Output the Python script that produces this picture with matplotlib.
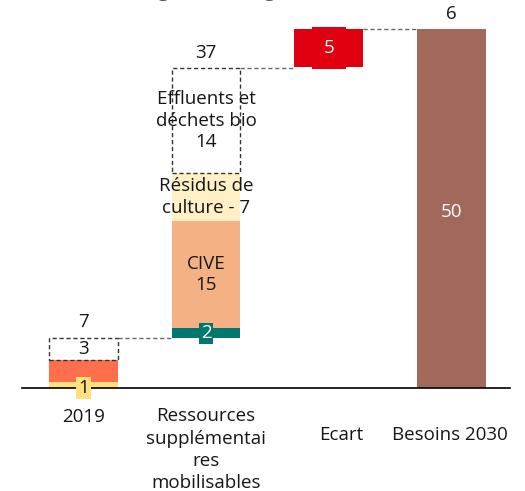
import matplotlib.pyplot as plt
import numpy as np

# valeurs (TWh)
categories = ["2019", "Ressources\nsupplémentai\nres\nmobilisables", "Ecart", "Besoins 2030"]
vals_2019 = [0.8, 3.1, 3.0]
labels_2019 = ["1", "", "3"]
vals_ress = [1.4, 15.0, 6.7, 14.5]
labels_ress = ["2", "CIVE\n15", "Résidus de\nculture - 7", "Effluents et\ndéchets bio\n14"]
ecart = 5.3
besoins = 50
total_labels = ["7", "37", "5", "6"]

FONT = "Open Sans"
FS = 13.5
TXT = "#161616"
plt.rcParams["font.family"] = [FONT, "DejaVu Sans"]

fig = plt.figure(figsize=(5.25, 4.91), dpi=100)
ax = fig.add_axes([22 / 525, 103 / 491, 488 / 525, 388 / 491])
ax.set_xlim(-0.5, 3.476)
ax.set_ylim(0, 54.04)
for s in ["top", "right", "left"]:
    ax.spines[s].set_visible(False)
ax.spines["bottom"].set_linewidth(1.2)
ax.set_xticks([])
ax.set_yticks([])

w = 0.56
dash = (0, (3, 2))

# 2019
b = np.concatenate([[0], np.cumsum(vals_2019)[:-1]])
ax.bar(0, vals_2019[0], w, bottom=b[0], color="#FFE07F")
ax.bar(0, vals_2019[1], w, bottom=b[1], color="#FF6F4C")
ax.bar(0, vals_2019[2], w, bottom=b[2], facecolor="none", edgecolor="#333333",
       linestyle=dash, linewidth=1)
ax.text(0, b[0] + vals_2019[0] / 2 - 0.35, labels_2019[0], ha="center", va="center",
        fontsize=FS, color=TXT,
        bbox=dict(boxstyle="square,pad=0.1", fc="#FFE07F", ec="none"))
ax.text(0, b[2] + vals_2019[2] / 2, labels_2019[2], ha="center", va="center",
        fontsize=FS, color=TXT)
top_2019 = sum(vals_2019)
ax.text(0, top_2019 + 2.3, total_labels[0], ha="center", va="center", fontsize=FS, color=TXT)

# ressources supplementaires
b = top_2019 + np.concatenate([[0], np.cumsum(vals_ress)[:-1]])
ax.bar(1, vals_ress[0], w, bottom=b[0], color="#00776F")
ax.bar(1, vals_ress[1], w, bottom=b[1], color="#F4B183")
ax.bar(1, vals_ress[2], w, bottom=b[2], color="#FFF0C6")
ax.bar(1, vals_ress[3], w, bottom=b[3], facecolor="none", edgecolor="#333333",
       linestyle=dash, linewidth=1)
ax.text(1, b[0] + vals_ress[0] / 2, labels_ress[0], ha="center", va="center",
        fontsize=FS, color="white",
        bbox=dict(boxstyle="square,pad=0.1", fc="#00776F", ec="none"))
for i in range(1, 4):
    ax.text(1, b[i] + vals_ress[i] / 2, labels_ress[i], ha="center", va="center",
            fontsize=FS, linespacing=1.27, color=TXT)
top_ress = top_2019 + sum(vals_ress)
ax.text(1, top_ress + 2.2, total_labels[1], ha="center", va="center", fontsize=FS, color=TXT)

# ecart
ax.bar(2, ecart, w, bottom=besoins - ecart, color="#E1000F")
ax.text(2, besoins - ecart / 2, total_labels[2], ha="center", va="center",
        fontsize=FS, color="white",
        bbox=dict(boxstyle="square,pad=0.62", fc="#E1000F", ec="none"))

# besoins 2030
ax.bar(3, besoins, w, color="#A2695A")
ax.text(3, 24.5, str(besoins), ha="center", va="center", fontsize=FS, color="white")
ax.text(3, besoins + 2.1, total_labels[3], ha="center", va="center", fontsize=FS, color=TXT)

# connecteurs
ax.plot([w / 2, 1 - w / 2], [top_2019, top_2019], color="#666666", lw=1, ls=dash)
ax.plot([1 + w / 2, 2 - w / 2], [top_ress, top_ress], color="#666666", lw=1, ls=dash)
ax.plot([2 + w / 2, 3 - w / 2], [besoins, besoins], color="#666666", lw=1, ls=dash)

# libelles des categories
ax.text(0, -4.0, categories[0], ha="center", va="center", fontsize=FS, color=TXT,
        clip_on=False)
ax.text(1, -2.7, categories[1], ha="center", va="top", fontsize=FS, linespacing=1.31,
        color=TXT, clip_on=False)
ax.text(2.1, -6.55, categories[2], ha="center", va="center", fontsize=FS, color=TXT,
        clip_on=False)
ax.text(2.99, -6.55, categories[3], ha="center", va="center", fontsize=FS, color=TXT,
        clip_on=False)

# titre coupe en haut de l'image, comme dans l'original
fig.text(0.0, 1 + 3 / 491, "Ressources en biogaz, en énergie, en TWh", ha="left",
         va="baseline", fontsize=FS, color="#555555")

fig.savefig("out.png", dpi=100)
